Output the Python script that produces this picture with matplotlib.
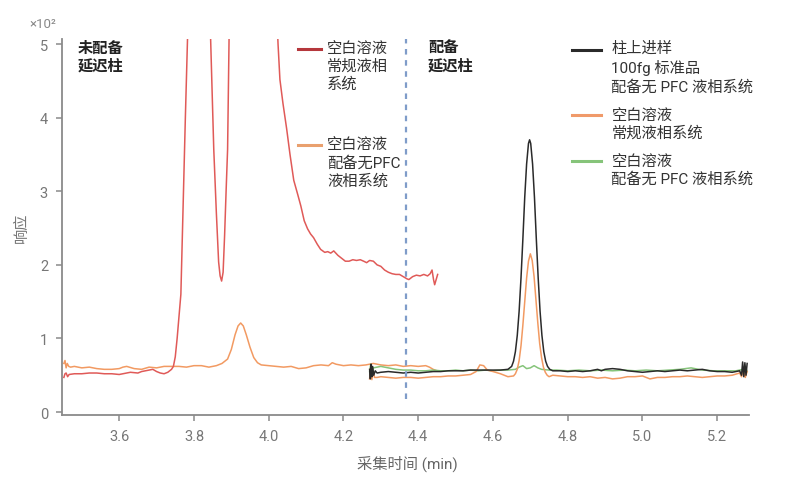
import numpy as np
import matplotlib
matplotlib.use("Agg")
import matplotlib.pyplot as plt
from matplotlib.legend_handler import HandlerLine2D

plt.rcParams['font.family'] = ['Roboto', 'Noto Sans CJK SC', 'DejaVu Sans']

# ---------------- data ----------------
# Without delay column: conventional LC (red), PFC-free LC (orange)
red_t = [3.452, 3.455, 3.458, 3.462, 3.466, 3.48, 3.50, 3.52, 3.54, 3.56, 3.58, 3.60, 3.62, 3.63, 3.65,
         3.66, 3.68, 3.69, 3.70, 3.71, 3.72, 3.73, 3.74, 3.745, 3.75, 3.755, 3.76, 3.765, 3.770, 3.777,
         3.784, 3.79, 3.80, 3.815, 3.83, 3.84, 3.845, 3.853, 3.860, 3.866, 3.870, 3.874, 3.878, 3.882,
         3.886, 3.890, 3.894, 3.90, 3.95, 4.00, 4.02, 4.025, 4.03, 4.038, 4.048, 4.057, 4.067, 4.078,
         4.086, 4.095, 4.104, 4.112, 4.12, 4.13, 4.139, 4.15, 4.158, 4.166, 4.174, 4.185, 4.195, 4.205,
         4.215, 4.225, 4.235, 4.245, 4.254, 4.262, 4.27, 4.28, 4.29, 4.30, 4.31, 4.32, 4.33, 4.34, 4.35,
         4.36, 4.37, 4.375, 4.385, 4.395, 4.405, 4.415, 4.425, 4.432, 4.437, 4.441, 4.444, 4.448, 4.452]
red_y = [0.47, 0.52, 0.53, 0.48, 0.51, 0.52, 0.52, 0.53, 0.53, 0.52, 0.52, 0.51, 0.53, 0.54, 0.53,
         0.55, 0.57, 0.58, 0.55, 0.53, 0.52, 0.54, 0.58, 0.62, 0.75, 1.00, 1.30, 1.60, 2.60, 4.00,
         5.30, 7.5, 9.5, 11.0, 9.0, 5.9, 5.0, 3.57, 2.70, 2.04, 1.85, 1.78, 1.90, 2.40,
         3.00, 3.57, 5.10, 6.5, 15.0, 10.0, 5.6, 5.0, 4.52, 4.20, 3.85, 3.50, 3.15, 2.95,
         2.80, 2.60, 2.49, 2.42, 2.37, 2.28, 2.21, 2.17, 2.18, 2.16, 2.19, 2.13, 2.09, 2.05,
         2.05, 2.07, 2.06, 2.07, 2.05, 2.03, 2.06, 2.05, 2.00, 1.98, 1.93, 1.90, 1.88, 1.87, 1.87,
         1.84, 1.81, 1.80, 1.84, 1.86, 1.85, 1.87, 1.85, 1.88, 1.93, 1.80, 1.73, 1.80, 1.87]

orange1_t = [3.452, 3.455, 3.458, 3.461, 3.465, 3.47, 3.48, 3.49, 3.50, 3.52, 3.54, 3.56, 3.58, 3.60,
             3.61, 3.62, 3.64, 3.66, 3.68, 3.70, 3.72, 3.74, 3.76, 3.78, 3.80, 3.82, 3.84, 3.86, 3.875,
             3.89, 3.90, 3.91, 3.918, 3.925, 3.932, 3.94, 3.95, 3.96, 3.97, 3.98, 4.00, 4.02, 4.04,
             4.06, 4.08, 4.10, 4.12, 4.14, 4.16, 4.17, 4.18, 4.20, 4.22, 4.24, 4.26, 4.28, 4.30, 4.32,
             4.34, 4.36, 4.38, 4.40, 4.42, 4.43, 4.44, 4.45]
orange1_y = [0.66, 0.70, 0.60, 0.66, 0.62, 0.61, 0.62, 0.61, 0.60, 0.61, 0.59, 0.58, 0.58, 0.59,
             0.61, 0.62, 0.59, 0.58, 0.61, 0.60, 0.62, 0.62, 0.62, 0.61, 0.63, 0.63, 0.61, 0.63, 0.66,
             0.72, 0.85, 1.05, 1.17, 1.21, 1.17, 1.05, 0.88, 0.74, 0.67, 0.64, 0.63, 0.62, 0.61,
             0.62, 0.59, 0.60, 0.63, 0.64, 0.63, 0.67, 0.65, 0.63, 0.64, 0.63, 0.64, 0.66, 0.64, 0.63,
             0.64, 0.62, 0.63, 0.62, 0.63, 0.61, 0.58, 0.56]

# With delay column: on-column 100 fg standard (black), conventional LC blank (orange), PFC-free blank (green)
black_t = [4.270, 4.272, 4.274, 4.276, 4.278, 4.281, 4.285, 4.29, 4.30, 4.32, 4.34, 4.36, 4.38, 4.40,
           4.42, 4.44, 4.46, 4.48, 4.50, 4.52, 4.54, 4.56, 4.58, 4.60, 4.62, 4.64, 4.650, 4.655, 4.660,
           4.665, 4.670, 4.675, 4.680, 4.685, 4.690, 4.695, 4.698, 4.701, 4.706, 4.711, 4.716, 4.721,
           4.726, 4.731, 4.736, 4.741, 4.746, 4.752, 4.76, 4.78, 4.80, 4.82, 4.84, 4.86, 4.88, 4.89,
           4.90, 4.92, 4.94, 4.96, 4.98, 5.00, 5.02, 5.04, 5.06, 5.08, 5.10, 5.12, 5.14, 5.16, 5.18,
           5.20, 5.22, 5.24, 5.26, 5.265, 5.268, 5.271, 5.274, 5.277, 5.28]
black_y = [0.58, 0.45, 0.65, 0.48, 0.62, 0.50, 0.56, 0.53, 0.54, 0.55, 0.54, 0.53, 0.54, 0.53,
           0.54, 0.55, 0.55, 0.56, 0.56, 0.56, 0.57, 0.57, 0.57, 0.57, 0.57, 0.58, 0.62, 0.69, 0.82,
           1.04, 1.37, 1.82, 2.35, 2.92, 3.37, 3.65, 3.70, 3.65, 3.37, 2.92, 2.35, 1.82,
           1.37, 1.04, 0.82, 0.69, 0.62, 0.58, 0.56, 0.56, 0.55, 0.56, 0.55, 0.56, 0.58, 0.56,
           0.58, 0.59, 0.58, 0.56, 0.55, 0.54, 0.55, 0.56, 0.55, 0.56, 0.57, 0.56, 0.57, 0.58, 0.56,
           0.55, 0.55, 0.54, 0.56, 0.50, 0.68, 0.48, 0.67, 0.50, 0.66]

orange2_t = [4.270, 4.273, 4.276, 4.279, 4.283, 4.29, 4.30, 4.32, 4.34, 4.36, 4.38, 4.40, 4.42, 4.44,
             4.46, 4.48, 4.50, 4.52, 4.54, 4.555, 4.565, 4.575, 4.585, 4.60, 4.62, 4.64, 4.655, 4.66,
             4.665, 4.67, 4.675, 4.68, 4.685, 4.69, 4.695, 4.70, 4.705, 4.71, 4.715, 4.72, 4.725, 4.73,
             4.735, 4.74, 4.745, 4.75, 4.76, 4.78, 4.80, 4.82, 4.84, 4.86, 4.88, 4.90, 4.92, 4.94, 4.96,
             4.98, 5.00, 5.02, 5.04, 5.06, 5.08, 5.10, 5.12, 5.14, 5.16, 5.18, 5.20, 5.22, 5.24, 5.26,
             5.265, 5.27, 5.275, 5.28]
orange2_y = [0.45, 0.62, 0.44, 0.55, 0.47, 0.47, 0.48, 0.47, 0.46, 0.47, 0.47, 0.46, 0.47, 0.48,
             0.48, 0.49, 0.49, 0.50, 0.51, 0.55, 0.64, 0.63, 0.57, 0.55, 0.52, 0.48, 0.49, 0.52,
             0.58, 0.70, 0.90, 1.18, 1.50, 1.82, 2.05, 2.15, 2.06, 1.84, 1.525, 1.21, 0.93, 0.74,
             0.61, 0.54, 0.50, 0.48, 0.50, 0.49, 0.48, 0.48, 0.47, 0.48, 0.46, 0.47, 0.45, 0.46, 0.48,
             0.48, 0.49, 0.45, 0.47, 0.47, 0.48, 0.48, 0.49, 0.48, 0.47, 0.48, 0.49, 0.49, 0.50, 0.53,
             0.48, 0.58, 0.47, 0.55]

green_t = [4.270, 4.273, 4.276, 4.28, 4.29, 4.30, 4.31, 4.32, 4.34, 4.36, 4.38, 4.40, 4.42, 4.44, 4.46,
           4.48, 4.50, 4.52, 4.54, 4.56, 4.58, 4.60, 4.62, 4.64, 4.66, 4.67, 4.68, 4.69, 4.70, 4.71,
           4.72, 4.73, 4.75, 4.77, 4.80, 4.83, 4.86, 4.89, 4.92, 4.95, 4.98, 5.01, 5.04, 5.07, 5.10,
           5.13, 5.16, 5.19, 5.22, 5.25, 5.27, 5.275, 5.28]
green_y = [0.55, 0.65, 0.52, 0.60, 0.61, 0.62, 0.61, 0.60, 0.58, 0.57, 0.57, 0.56, 0.56, 0.57, 0.56,
           0.56, 0.57, 0.56, 0.57, 0.56, 0.57, 0.56, 0.57, 0.57, 0.58, 0.61, 0.63, 0.59, 0.60, 0.63,
           0.60, 0.58, 0.57, 0.57, 0.56, 0.57, 0.56, 0.57, 0.56, 0.57, 0.56, 0.57, 0.56, 0.57, 0.58,
           0.60, 0.57, 0.56, 0.56, 0.56, 0.58, 0.62, 0.55]

x_ticks = [3.6, 3.8, 4.0, 4.2, 4.4, 4.6, 4.8, 5.0, 5.2]
y_ticks = [0, 1, 2, 3, 4, 5]
delay_split = 4.366

lbl_red = "空白溶液\n常规液相\n系统"
lbl_orange1 = "空白溶液\n配备无PFC\n液相系统"
lbl_black = "柱上进样\n100fg 标准品\n配备无 PFC 液相系统"
lbl_orange2 = "空白溶液\n常规液相系统"
lbl_green = "空白溶液\n配备无 PFC 液相系统"

# ---------------- figure ----------------
C_RED = "#e05a58"
C_ORANGE = "#f29a62"
C_GREEN = "#86c47a"
C_BLACK = "#2a2a2a"
GRAY = "#8a8a8a"

fig = plt.figure(figsize=(7.92, 4.81), dpi=100)
ax = fig.add_axes([0.0783, 0.1357, 0.8674, 0.7811])

l_or1, = ax.plot(orange1_t, orange1_y, color=C_ORANGE, lw=1.1)
l_red, = ax.plot(red_t, red_y, color=C_RED, lw=1.1)
l_green, = ax.plot(green_t, green_y, color=C_GREEN, lw=1.1)
l_or2, = ax.plot(orange2_t, orange2_y, color=C_ORANGE, lw=1.1)
l_black, = ax.plot(black_t, black_y, color=C_BLACK, lw=1.1)

ax.axvline(delay_split, ymin=0.042, ymax=1.0, color="#7f9cc9", lw=1.6, ls=(0, (2.5, 2.5)))

ax.set_xlim(3.447, 5.285)
ax.set_ylim(-0.037, 5.07)
ax.set_xticks(x_ticks)
ax.set_xticklabels([f"{v:.1f}" for v in x_ticks])
ax.set_yticks(y_ticks)
ax.set_yticklabels([str(v) for v in y_ticks])

for s in ["top", "right"]:
    ax.spines[s].set_visible(False)
for s in ["left", "bottom"]:
    ax.spines[s].set_color(GRAY)
    ax.spines[s].set_linewidth(1.3)
ax.tick_params(axis="both", direction="out", length=4, width=1.1, color=GRAY,
               labelcolor="#777777", labelsize=10.5, pad=6)

ax.set_xlabel("采集时间 (min)", fontsize=11, color="#666666")
ax.xaxis.set_label_coords(0.502, -0.105)
ax.set_ylabel("响应", fontsize=11, color="#777777")
ax.yaxis.set_label_coords(-0.048, 0.5)

ax.text(-0.047, 1.040, "×10²", transform=ax.transAxes, fontsize=9.5, color="#888888",
        ha="left", va="center")

ax.text(0.023, 0.995, "未配备\n延迟柱", transform=ax.transAxes, fontsize=11, fontweight="bold",
        color="#222222", ha="left", va="top", linespacing=1.25)
ax.text(0.533, 0.995, "配备\n延迟柱", transform=ax.transAxes, fontsize=11, fontweight="bold",
        color="#222222", ha="left", va="top", linespacing=1.25)


class TopHandler(HandlerLine2D):
    """Places the legend key level with the first line of a multi-line label."""
    def __init__(self, nlines, step, **kw):
        super().__init__(**kw)
        self.nlines = nlines
        self.step = step

    def create_artists(self, legend, orig_handle, xdescent, ydescent, width, height, fontsize, trans):
        arts = super().create_artists(legend, orig_handle, xdescent, ydescent, width, height,
                                      fontsize, trans)
        shift = (self.nlines - 1) / 2.0 * self.step
        for a in arts:
            a.set_ydata(np.asarray(a.get_ydata(), dtype=float) + shift)
        return arts


def key(c):
    return matplotlib.lines.Line2D([], [], color=c, lw=2.2)


STEP = 12.6
LSP = 1.32
h_red, h_or1 = key("#b5373c"), key("#e9a06e")
leg1 = ax.legend([h_red, h_or1], [lbl_red, lbl_orange1], loc="upper left",
                 bbox_to_anchor=(0.3435, 0.995), frameon=False, fontsize=11,
                 handlelength=1.5, handletextpad=0.4, labelspacing=3.0, borderpad=0,
                 borderaxespad=0, labelcolor="#333333",
                 handler_map={h_red: TopHandler(3, STEP), h_or1: TopHandler(3, STEP)})
for t in leg1.get_texts():
    t.set_linespacing(LSP)
ax.add_artist(leg1)

h_blk, h_or2, h_grn = key(C_BLACK), key("#f09a6a"), key(C_GREEN)
leg2 = ax.legend([h_blk, h_or2, h_grn], [lbl_black, lbl_orange2, lbl_green], loc="upper left",
                 bbox_to_anchor=(0.742, 0.995), frameon=False, fontsize=11,
                 handlelength=1.9, handletextpad=0.7, labelspacing=0.9, borderpad=0,
                 borderaxespad=0, labelcolor="#333333",
                 handler_map={h_blk: TopHandler(3, STEP), h_or2: TopHandler(2, STEP),
                              h_grn: TopHandler(2, STEP)})
for t in leg2.get_texts():
    t.set_linespacing(LSP)

fig.savefig("out.png", dpi=100)
